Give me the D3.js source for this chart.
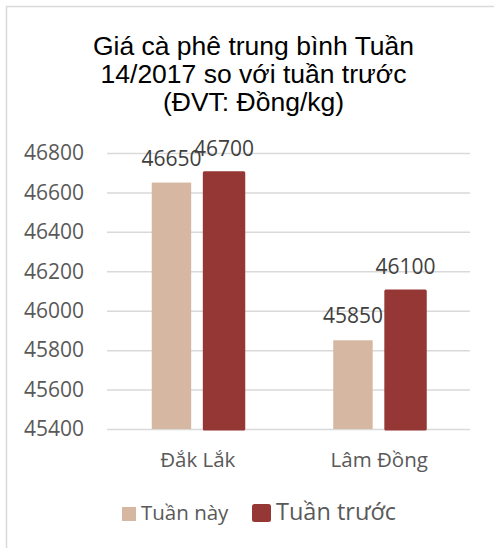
<!DOCTYPE html>
<html>
<head>
<meta charset="utf-8">
<script src="https://cdn.jsdelivr.net/npm/d3@7"></script>
<style>
  body { margin: 0; background: #fff; }
</style>
</head>
<body>
<div id="chart"></div>
<script>
// data
const categories = ["Đắk Lắk", "Lâm Đồng"];
const seriesNames = ["Tuần này", "Tuần trước"];
const tuanNay   = [46650, 45850];
const tuanTruoc = [46700, 46100];
const yTicks = [45400, 45600, 45800, 46000, 46200, 46400, 46600, 46800];
const titleLines = ["Giá cà phê trung bình Tuần", "14/2017 so với tuần trước", "(ĐVT: Đồng/kg)"];

const colors = {"Tuần này": "#d6b7a2", "Tuần trước": "#953734"};

const width  = 494;
const height = 548;
const plot = {left: 107, right: 470, top: 153, bottom: 429};

const svg = d3.select("#chart")
    .append("svg")
    .attr("width",  width)
    .attr("height", height)

// chart border (only top/left visible)
svg.append("rect")
    .attr("x", 6.5).attr("y", 6.5)
    .attr("width", 600).attr("height", 600)
    .attr("fill", "none")
    .attr("stroke", "#d9d9d9")
    .attr("stroke-width", 1.5)

// title
svg.append("g").selectAll("text")
    .data(titleLines)
    .join("text")
        .text(d => d)
        .attr("x", 253.5)
        .attr("y", (d, i) => 55 + i * 28)
        .attr("text-anchor", "middle")
        .attr("font-family", "Liberation Sans, Arial, sans-serif")
        .attr("font-size", 26.5)
        .attr("fill", "#000")

var x = d3.scaleBand().domain(categories).range([plot.left, plot.right])
var xs = d3.scaleBand().domain(seriesNames).range([-46, 46]).paddingInner(0.25)
var y = d3.scaleLinear().domain([45400, 46800]).range([plot.bottom, plot.top])

// gridlines + y labels
const yAxis = d3.axisLeft(y)
    .tickValues(yTicks)
    .tickFormat(d => d)
    .tickSize(-(plot.right - plot.left))
    .tickPadding(23)

const yAxisGroup = svg.append("g")
    .attr("transform", `translate(${plot.left}, 0)`)
    .call(yAxis)
yAxisGroup.select(".domain").remove()
yAxisGroup.selectAll("line").attr("stroke", "#d9d9d9").attr("stroke-width", 1.5)
yAxisGroup.selectAll("text")
    .attr("font-family", "Open Sans, sans-serif")
    .attr("font-size", 21)
    .attr("fill", "#595959")

// bars
const rows = categories.map((c, i) => ({cat: c, values: [
    {name: seriesNames[0], value: tuanNay[i]},
    {name: seriesNames[1], value: tuanTruoc[i]}
]}))

const groups = svg.append("g").selectAll("g")
    .data(rows)
    .join("g")
    .attr("transform", d => `translate(${x(d.cat) + x.bandwidth() / 2}, 0)`)

groups.selectAll("rect")
    .data(d => d.values)
    .join("rect")
        .attr("x", d => xs(d.name))
        .attr("y", d => y(d.value))
        .attr("width", xs.bandwidth())
        .attr("height", d => y(45400) - y(d.value))
        .attr("fill", d => colors[d.name])
        .attr("stroke", d => d.name == "Tuần trước" ? colors[d.name] : "none")
        .attr("stroke-width", 3)
        .attr("stroke-linejoin", "round")

groups.selectAll("text")
    .data(d => d.values)
    .join("text")
        .text(d => d.value)
        .attr("x", d => xs(d.name) + xs.bandwidth() / 2)
        .attr("y", d => y(d.value) - 17)
        .attr("text-anchor", "middle")
        .attr("font-family", "Open Sans, sans-serif")
        .attr("font-size", 21)
        .attr("fill", "#404040")

// category labels
svg.append("g").selectAll("text")
    .data(categories)
    .join("text")
        .text(d => d)
        .attr("x", d => x(d) + x.bandwidth() / 2)
        .attr("y", 467)
        .attr("text-anchor", "middle")
        .attr("font-family", "Open Sans, sans-serif")
        .attr("font-size", 20.5)
        .attr("fill", "#595959")

// legend
const legend = svg.append("g")
legend.append("rect")
    .attr("x", 122).attr("y", 507).attr("width", 14).attr("height", 14)
    .attr("fill", colors["Tuần này"])
legend.append("text")
    .text(seriesNames[0])
    .attr("x", 141).attr("y", 520)
    .attr("font-family", "Open Sans, sans-serif")
    .attr("font-size", 20.5)
    .attr("fill", "#595959")
legend.append("rect")
    .attr("x", 252).attr("y", 504).attr("width", 19).attr("height", 18)
    .attr("rx", 2.5)
    .attr("fill", colors["Tuần trước"])
legend.append("text")
    .text(seriesNames[1])
    .attr("x", 276).attr("y", 520)
    .attr("font-family", "Open Sans, sans-serif")
    .attr("font-size", 23.5)
    .attr("fill", "#595959")
</script>
</body>
</html>
